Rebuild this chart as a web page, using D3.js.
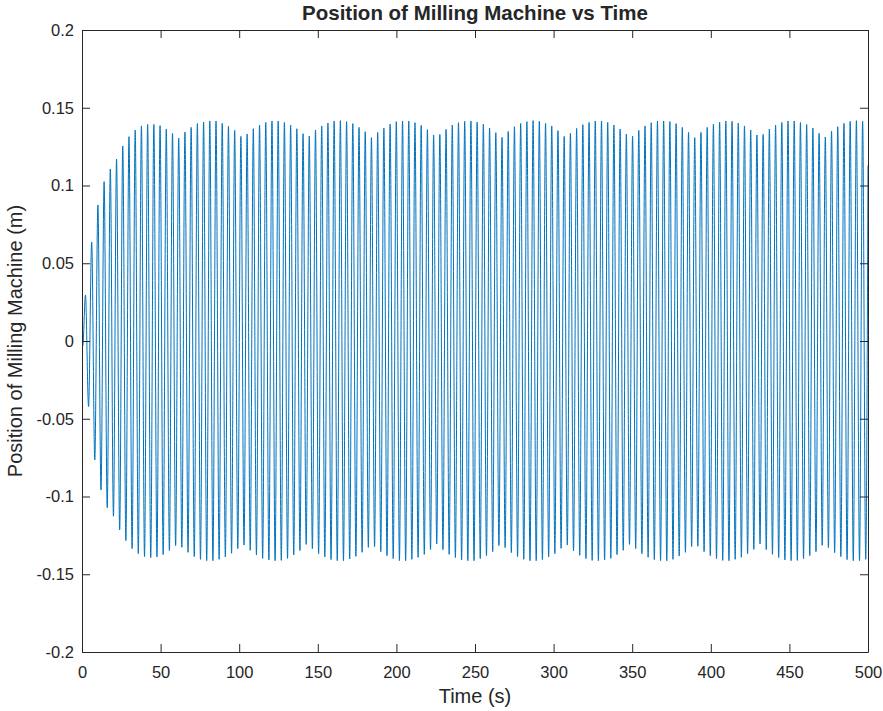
<!DOCTYPE html>
<html>
<head>
<meta charset="utf-8">
<script src="https://cdn.jsdelivr.net/npm/d3@7/dist/d3.min.js"></script>
<style>
  body { margin: 0; background: #fff; }
  svg text { font-family: "Liberation Sans", Arial, Helvetica, sans-serif; fill: #262626; }
</style>
</head>
<body>
<div id="chart"></div>
<script>
// values
const titleText = "Position of Milling Machine vs Time";
const xLabelText = "Time (s)";
const yLabelText = "Position of Milling Machine (m)";

const xTicks = [0, 50, 100, 150, 200, 250, 300, 350, 400, 450, 500];
const yTicks = [-0.2, -0.15, -0.1, -0.05, 0, 0.05, 0.1, 0.15, 0.2];

// start of the response (t, x)
const startTimes = [0, 0.5];
const startValues = [0, -0.003];

// one crest and one trough per cycle
const firstPeakTime = 2.2;     // s
const cyclePeriod = 3.955;     // s, crest to crest

const peakValues = [
  0.0296, 0.0637, 0.0875, 0.1025, 0.1106, 0.117, 0.1254, 0.1314, 0.1357, 0.1383,
  0.1393, 0.1393, 0.1385, 0.1363, 0.1336, 0.1305, 0.1344, 0.1374, 0.1398, 0.1408,
  0.1415, 0.1415, 0.14, 0.1381, 0.1355, 0.1316, 0.1331, 0.1365, 0.1389, 0.1406,
  0.1415, 0.1415, 0.1406, 0.1389, 0.1365, 0.1333, 0.1318, 0.1357, 0.1383, 0.1402,
  0.1415, 0.1417, 0.1411, 0.1398, 0.1374, 0.1346, 0.1308, 0.1342, 0.137, 0.1395,
  0.1411, 0.1415, 0.1415, 0.1404, 0.1387, 0.1359, 0.1325, 0.1329, 0.1361, 0.1389,
  0.1404, 0.1413, 0.1415, 0.1408, 0.1395, 0.137, 0.134, 0.131, 0.1348, 0.1378,
  0.14, 0.1411, 0.1417, 0.1413, 0.14, 0.1383, 0.1353, 0.1316, 0.1336, 0.1368,
  0.1391, 0.1406, 0.1415, 0.1415, 0.1406, 0.1389, 0.1363, 0.1331, 0.1318, 0.1355,
  0.1383, 0.1404, 0.1415, 0.1415, 0.1411, 0.1398, 0.1374, 0.1342, 0.1308, 0.1342,
  0.1374, 0.1395, 0.1408, 0.1415, 0.1413, 0.1402, 0.1383, 0.1357, 0.1325, 0.1329,
  0.1363, 0.1389, 0.1406, 0.1415, 0.1415, 0.1406, 0.1393, 0.137, 0.1336, 0.1312,
  0.135, 0.1378, 0.14, 0.1413, 0.1417, 0.1413
];

const troughValues = [
  -0.0422, -0.0765, -0.0958, -0.1072, -0.1127, -0.1215, -0.1284, -0.1336, -0.1368, -0.1387,
  -0.1393, -0.1389, -0.1374, -0.1348, -0.1316, -0.1327, -0.1359, -0.1387, -0.1404, -0.1413,
  -0.1413, -0.1404, -0.1389, -0.1365, -0.1336, -0.1312, -0.1346, -0.1376, -0.1398, -0.1408,
  -0.1413, -0.1411, -0.1398, -0.1376, -0.1348, -0.1308, -0.1336, -0.1368, -0.1389, -0.1406,
  -0.1413, -0.1413, -0.1402, -0.1385, -0.1359, -0.1327, -0.1323, -0.1355, -0.1381, -0.14,
  -0.1413, -0.1413, -0.1404, -0.1391, -0.1372, -0.1342, -0.1305, -0.1342, -0.1372, -0.1393,
  -0.1408, -0.1413, -0.1413, -0.14, -0.1381, -0.1355, -0.1316, -0.1329, -0.1361, -0.1387,
  -0.1404, -0.1413, -0.1413, -0.1406, -0.1389, -0.1368, -0.1333, -0.1312, -0.135, -0.1378,
  -0.14, -0.1411, -0.1413, -0.1408, -0.1398, -0.1374, -0.1346, -0.1308, -0.1336, -0.1368,
  -0.1391, -0.1406, -0.1413, -0.1413, -0.1404, -0.1383, -0.1359, -0.1323, -0.132, -0.1355,
  -0.1381, -0.14, -0.1411, -0.1413, -0.1404, -0.1391, -0.1368, -0.134, -0.1305, -0.1342,
  -0.1372, -0.1393, -0.1408, -0.1413, -0.1411, -0.14, -0.1381, -0.1355, -0.1314, -0.1329,
  -0.1361, -0.1387, -0.1406, -0.1413, -0.1413, -0.1404
];

const endTime = 500;
const endValue = 0.113;

// layout
const width = 883, height = 711;
const margin = { top: 30, right: 15, bottom: 59, left: 82 };
const innerW = width - margin.left - margin.right;
const innerH = height - margin.top - margin.bottom;
const axisColor = "#262626";
const lineColor = "#0072BD";

// build the series in time order
const series = startTimes.map((t, i) => ({ t: t, v: startValues[i] }));
peakValues.forEach((v, k) => {
  series.push({ t: firstPeakTime + k * cyclePeriod, v: v });
  if (k < troughValues.length) {
    series.push({ t: firstPeakTime + (k + 0.5) * cyclePeriod, v: troughValues[k] });
  }
});
series.push({ t: endTime, v: endValue });
series.sort((a, b) => a.t - b.t);

const svg = d3.select("#chart").append("svg")
  .attr("width", width)
  .attr("height", height);

const g = svg.append("g")
  .attr("transform", `translate(${margin.left},${margin.top})`);

const x = d3.scaleLinear().domain([0, 500]).range([0, innerW]);
const y = d3.scaleLinear().domain([-0.2, 0.2]).range([innerH, 0]);

// clip the trace to the axes box
g.append("clipPath").attr("id", "plotClip")
  .append("rect").attr("width", innerW).attr("height", innerH);

const line = d3.line()
  .x(d => x(d.t))
  .y(d => y(d.v))
  .curve(d3.curveMonotoneX);

g.append("path")
  .datum(series)
  .attr("clip-path", "url(#plotClip)")
  .attr("fill", "none")
  .attr("stroke", lineColor)
  .attr("stroke-width", 1)
  .attr("d", line);

// axes, MATLAB style: ticks inside, box on
const tickLen = 8;
const fmt = v => String(+v.toFixed(2));

const xAxis = g.append("g")
  .attr("transform", `translate(0,${innerH})`)
  .call(d3.axisBottom(x).tickValues(xTicks).tickSizeInner(-tickLen).tickSizeOuter(0).tickPadding(14).tickFormat(fmt));
const xAxisTop = g.append("g")
  .call(d3.axisTop(x).tickValues(xTicks).tickSizeInner(-tickLen).tickSizeOuter(0).tickFormat(""));
const yAxis = g.append("g")
  .call(d3.axisLeft(y).tickValues(yTicks).tickSizeInner(-tickLen).tickSizeOuter(0).tickPadding(8).tickFormat(fmt));
const yAxisRight = g.append("g")
  .attr("transform", `translate(${innerW},0)`)
  .call(d3.axisRight(y).tickValues(yTicks).tickSizeInner(-tickLen).tickSizeOuter(0).tickFormat(""));

[xAxis, xAxisTop, yAxis, yAxisRight].forEach(a => {
  a.selectAll("path.domain").attr("stroke", axisColor).attr("stroke-width", 1);
  a.selectAll(".tick line").attr("stroke", axisColor).attr("stroke-width", 1);
  a.selectAll("text")
    .attr("fill", axisColor)
    .style("font-size", "16.5px")
    .style("font-family", "'Liberation Sans', Arial, sans-serif");
});

// titles
svg.append("text")
  .attr("x", margin.left + innerW / 2)
  .attr("y", 20)
  .attr("text-anchor", "middle")
  .style("font-size", "20.5px")
  .style("font-weight", "bold")
  .text(titleText);

svg.append("text")
  .attr("x", margin.left + innerW / 2)
  .attr("y", 703)
  .attr("text-anchor", "middle")
  .style("font-size", "20px")
  .text(xLabelText);

svg.append("text")
  .attr("transform", `translate(22,${margin.top + innerH / 2}) rotate(-90)`)
  .attr("text-anchor", "middle")
  .style("font-size", "20px")
  .text(yLabelText);
</script>
</body>
</html>
